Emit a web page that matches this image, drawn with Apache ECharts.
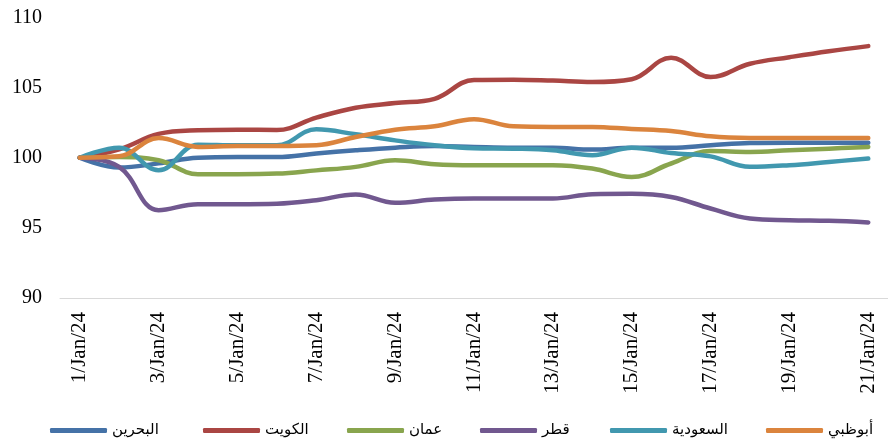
<!DOCTYPE html>
<html>
<head>
<meta charset="utf-8">
<script src="https://cdn.jsdelivr.net/npm/echarts@6/dist/echarts.min.js"></script>
<style>
html,body{margin:0;padding:0;background:#fff;}
#chart{width:888px;height:445px;}
</style>
</head>
<body>
<div id="chart"></div>
<script>
const categories = ['1/Jan/24','2/Jan/24','3/Jan/24','4/Jan/24','5/Jan/24','6/Jan/24','7/Jan/24','8/Jan/24','9/Jan/24','10/Jan/24','11/Jan/24','12/Jan/24','13/Jan/24','14/Jan/24','15/Jan/24','16/Jan/24','17/Jan/24','18/Jan/24','19/Jan/24','20/Jan/24','21/Jan/24'];
const seriesNames = ['البحرين','الكويت','عمان','قطر','السعودية','أبوظبي'];
const bahrain = [100,99.3,99.6,100.0,100.05,100.05,100.3,100.53,100.72,100.84,100.77,100.72,100.72,100.58,100.72,100.72,100.89,101.05,101.07,101.07,101.07];
const kuwait  = [100,100.6,101.7,101.96,102.0,101.98,102.86,103.57,103.9,104.2,105.55,105.57,105.5,105.4,105.6,107.13,105.75,106.7,107.17,107.6,107.96];
const oman    = [100,100.05,99.82,98.83,98.83,98.87,99.1,99.35,99.82,99.54,99.47,99.47,99.47,99.23,98.63,99.59,100.48,100.41,100.53,100.65,100.77];
const qatar   = [100,99.35,96.26,96.69,96.69,96.72,96.97,97.38,96.79,97.02,97.1,97.1,97.1,97.4,97.43,97.2,96.38,95.67,95.55,95.5,95.39];
const saudi   = [100,100.72,99.1,100.93,100.89,100.89,102.03,101.67,101.24,100.89,100.68,100.65,100.53,100.18,100.72,100.34,100.1,99.35,99.47,99.7,99.94];
const abudhabi= [100,100.1,101.4,100.77,100.84,100.84,100.89,101.48,102.0,102.24,102.75,102.24,102.2,102.2,102.05,101.9,101.53,101.41,101.4,101.4,101.4];
const seriesData = [bahrain, kuwait, oman, qatar, saudi, abudhabi];
const colors = ['#4572A7','#AA4643','#89A54E','#71588F','#4198AF','#DB843D'];
const yMin = 90, yMax = 110, yStep = 5;

const legendLefts = [45, 198, 342, 475, 605, 761];

const chart = echarts.init(document.getElementById('chart'), null, {renderer:'canvas'});
chart.setOption({
  animation:false,
  backgroundColor:'#fff',
  color: colors,
  grid:{left:60, right:-9, top:17.5, bottom:147, containLabel:false},
  legend: seriesNames.map((n,i)=>({
    data:[n], left:legendLefts[i], top:418, icon:'roundRect', itemWidth:57, itemHeight:5, itemGap:0,
    textStyle:{fontFamily:'DejaVu Sans', fontSize:15, color:'#000'}
  })),
  xAxis:{
    type:'category', data:categories, boundaryGap:true,
    axisLine:{lineStyle:{color:'#d9d9d9', width:1}},
    axisTick:{interval:1, length:6, lineStyle:{color:'#d9d9d9'}},
    axisLabel:{interval:1, rotate:90, margin:14, fontFamily:'Liberation Serif', fontSize:21, color:'#000'},
    splitLine:{show:false}
  },
  yAxis:{
    type:'value', min:yMin, max:yMax, interval:yStep,
    axisLine:{show:false}, axisTick:{show:false}, splitLine:{show:false},
    axisLabel:{margin:18, fontFamily:'Liberation Serif', fontSize:20, color:'#000'}
  },
  series: seriesNames.map((n,i)=>({
    name:n, type:'line', data:seriesData[i], smooth:0.4, symbol:'none',
    lineStyle:{width:4.5, color:colors[i], cap:'round', join:'round'}
  }))
});
</script>
</body>
</html>
